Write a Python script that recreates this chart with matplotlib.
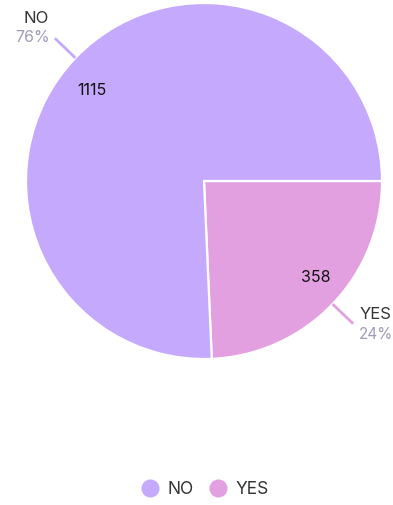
import numpy as np
import matplotlib.pyplot as plt
from matplotlib.lines import Line2D

plt.rcParams['font.family'] = ['Inter', 'DejaVu Sans']

labels = ['YES', 'NO']
counts = [358, 1115]
colors = ['#e3a0e1', '#c5a9fd']
legend_order = ['NO', 'YES']

W, H = 393, 505
fig = plt.figure(figsize=(W / 100, H / 100), dpi=100)
# pie area: center (204, 181) px, radius 178 px
cx, cy, r = 204, 181, 178
ax = fig.add_axes([(cx - r) / W, (H - cy - r) / H, 2 * r / W, 2 * r / H])

total = sum(counts)
wedges, _ = ax.pie(counts, colors=colors, startangle=0, counterclock=False,
                   radius=1, wedgeprops=dict(edgecolor='white', linewidth=1.6))
ax.set_xlim(-1, 1)
ax.set_ylim(-1, 1)
ax.set_aspect('equal')
ax.axis('off')

for w, lab, n, c in zip(wedges, labels, counts, colors):
    mid_deg = (w.theta1 + w.theta2) / 2
    mid = np.deg2rad(mid_deg)
    dx, dy = np.cos(mid), np.sin(mid)
    # value inside the slice (nudged a few degrees counter-clockwise)
    vin = np.deg2rad(mid_deg + 4)
    ax.annotate(str(n), (0.82 * np.cos(vin), 0.82 * np.sin(vin)),
                xytext=(0, -3), textcoords='offset pixels', ha='center',
                va='center', fontsize=11.5, color='#111111')
    # leader line and outside label
    ex, ey = 1.16 * dx, 1.16 * dy
    ax.plot([dx, ex], [dy, ey], color=c, lw=2, solid_capstyle='butt',
            clip_on=False)
    pct = f'{round(100 * n / total)}%'
    if dx > 0:
        ax.annotate(lab, (ex, ey), xytext=(6, 9), textcoords='offset pixels',
                    ha='left', va='center', fontsize=12, color='#333333')
        ax.annotate(pct, (ex, ey), xytext=(6, -11), textcoords='offset pixels',
                    ha='left', va='center', fontsize=11, color='#a09cb8')
    else:
        ax.annotate(lab, (ex, ey), xytext=(-6, 20), textcoords='offset pixels',
                    ha='right', va='center', fontsize=12, color='#333333')
        ax.annotate(pct, (ex, ey), xytext=(-5, 1), textcoords='offset pixels',
                    ha='right', va='center', fontsize=11.5, color='#a09cb8')

handles = [Line2D([], [], marker='o', ls='', markersize=13,
                  markerfacecolor=colors[labels.index(k)],
                  markeredgecolor='none') for k in legend_order]
fig.legend(handles, legend_order, loc='center', bbox_to_anchor=(201 / W, 1 - 490 / H),
           ncol=2, frameon=False, fontsize=12.5, handletextpad=0.0,
           columnspacing=0.4, labelcolor='#333333')

fig.savefig('out.png', dpi=100)
